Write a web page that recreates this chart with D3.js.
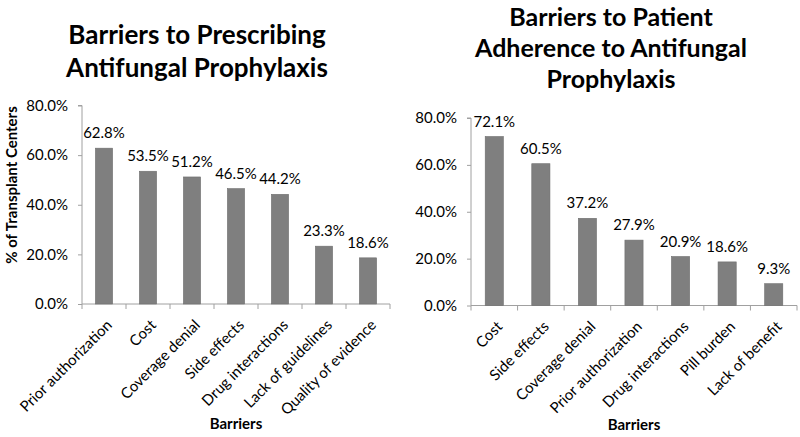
<!DOCTYPE html>
<html><head><meta charset="utf-8">
<script src="https://cdn.jsdelivr.net/npm/d3@7"></script>
<style>
body{margin:0;background:#fff;}
svg{display:block;}
text{font-family:Lato,"Liberation Sans",sans-serif;fill:#000;}
</style></head>
<body><svg id="c" width="800" height="437"></svg>
<script>
// Left chart data
const leftCategories = ["Prior authorization","Cost","Coverage denial","Side effects","Drug interactions","Lack of guidelines","Quality of evidence"];
const leftValues = [62.8,53.5,51.2,46.5,44.2,23.3,18.6];
const leftTitle = ["Barriers to Prescribing","Antifungal Prophylaxis"];
// Right chart data
const rightCategories = ["Cost","Side effects","Coverage denial","Prior authorization","Drug interactions","Pill burden","Lack of benefit"];
const rightValues = [72.1,60.5,37.2,27.9,20.9,18.6,9.3];
const rightTitle = ["Barriers to Patient","Adherence to Antifungal","Prophylaxis"];
const yTicks = [0,20,40,60,80];
const yAxisTitle = "% of Transplant Centers";
const xAxisTitle = "Barriers";

const svg = d3.select("#c");
const fmt = v => v.toFixed(1) + "%";
const AXIS = "#a0a0a0";

function drawChart(cfg){
  const g = svg.append("g");
  const x = d3.scaleBand().domain(cfg.cats).range([cfg.x0, cfg.x1]).paddingInner(0.61).paddingOuter(0.305);
  const y = d3.scaleLinear().domain([0,80]).range([cfg.yb, cfg.yt]);

  // title
  cfg.title.forEach((t,i)=>{
    g.append("text").attr("x",cfg.tx).attr("y",cfg.ty + i*cfg.tdy)
      .attr("text-anchor","middle").style("font-weight","bold").style("font-size",cfg.tfs).text(t);
  });

  // y axis
  const ya = g.append("g").attr("transform",`translate(${cfg.x0},0)`)
    .call(d3.axisLeft(y).tickValues(yTicks).tickFormat(fmt).tickSize(4).tickPadding(10));
  ya.select(".domain").attr("stroke",AXIS).attr("d",`M-4,${y(80)}H0V${y(0)}`);
  ya.selectAll(".tick line").attr("stroke",AXIS);
  ya.selectAll(".tick text").style("font-size","15px").style("font-family","Lato, sans-serif").attr("fill","#000");

  // x axis baseline
  g.append("line").attr("x1",cfg.x0).attr("x2",cfg.x1).attr("y1",y(0)).attr("y2",y(0)).attr("stroke",AXIS);
  // boundary ticks
  const step = x.step();
  const bounds = d3.range(cfg.cats.length+1).map(i => cfg.x0 + i*step);
  g.selectAll(".bt").data(bounds).join("line")
    .attr("x1",d=>d).attr("x2",d=>d).attr("y1",y(0)).attr("y2",y(0)+5).attr("stroke",AXIS);

  // bars
  g.selectAll(".bar").data(cfg.vals).join("rect")
    .attr("x",(d,i)=>x(cfg.cats[i])).attr("width",x.bandwidth())
    .attr("y",d=>y(d)).attr("height",d=>y(0)-y(d))
    .attr("fill","#7f7f7f").attr("stroke","#6e6e6e").attr("stroke-width",0.6);

  // data labels
  g.selectAll(".lbl").data(cfg.vals).join("text")
    .attr("x",(d,i)=>x(cfg.cats[i])+x.bandwidth()/2).attr("y",d=>y(d)-10)
    .attr("text-anchor","middle").style("font-size","15px").text(fmt);

  // category labels
  g.selectAll(".cl").data(cfg.cats).join("text")
    .attr("transform",d=>`translate(${x(d)+x.bandwidth()/2+9},${y(0)+22}) rotate(-45)`)
    .attr("text-anchor","end").style("font-size","15px").text(d=>d);

  // x title
  g.append("text").attr("x",(cfg.x0+cfg.x1)/2).attr("y",cfg.xty)
    .attr("text-anchor","middle").style("font-weight","bold").style("font-size","15px").text(xAxisTitle);

  if(cfg.ytitle){
    g.append("text").attr("transform",`translate(17,185) rotate(-90)`)
      .attr("text-anchor","middle").style("font-weight","bold").style("font-size","15px").text(yAxisTitle);
  }
}

drawChart({cats:leftCategories, vals:leftValues, title:leftTitle, x0:82, x1:390, yb:304, yt:105.5,
  tx:197, ty:44, tdy:33, tfs:"26px", xty:429, ytitle:true});
drawChart({cats:rightCategories, vals:rightValues, title:rightTitle, x0:471, x1:797, yb:305.5, yt:118,
  tx:611, ty:26, tdy:31, tfs:"25px", xty:430, ytitle:false});
</script></body></html>
